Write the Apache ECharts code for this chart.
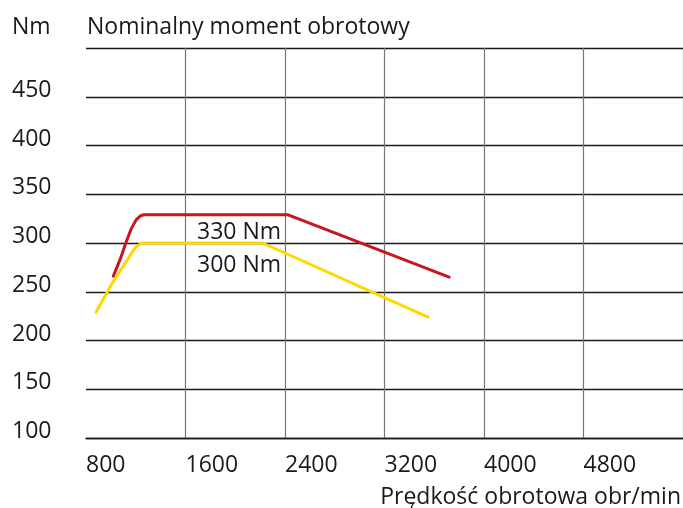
<!DOCTYPE html>
<html>
<head>
<meta charset="utf-8">
<script src="https://cdn.jsdelivr.net/npm/echarts@6/dist/echarts.min.js"></script>
<style>
  html, body { margin: 0; padding: 0; background: #fff; }
  #chart { width: 683px; height: 508px; }
</style>
</head>
<body>
<div id="chart"></div>
<script>
// Nominal torque curves, rpm vs Nm.
const red330 = [[1020, 266], [1080, 285], [1120, 300], [1165, 315], [1205, 324], [1240, 328], [1265, 329], [2420, 329], [3720, 265]];
const yellow300 = [[880, 229], [1007, 258], [1200, 296], [1250, 300], [2220, 300], [3550, 224]];
const xTicks = [800, 1600, 2400, 3200, 4000, 4800, 5600];
const yTicks = [100, 150, 200, 250, 300, 350, 400, 450, 500];
const curveLabels = ['330 Nm', '300 Nm'];

const FONT = '"Open Sans", sans-serif';
const INK = '#1a1a1a';
const chart = echarts.init(document.getElementById('chart'));

chart.setOption({
  animation: false,
  backgroundColor: '#fff',
  grid: { left: 86, right: 0, top: 48, bottom: 70 },
  xAxis: {
    type: 'value',
    min: xTicks[0], max: xTicks[xTicks.length - 1], interval: 800,
    axisLine: { show: true, lineStyle: { color: INK, width: 1.3 } },
    axisTick: { show: false },
    axisLabel: {
      showMaxLabel: false, align: 'left', margin: 16,
      color: INK, fontSize: 23, fontFamily: FONT,
      formatter: function (v) { return String(v); }
    },
    splitLine: {
      show: true,
      lineStyle: { color: ['rgba(0,0,0,0)', '#777', '#777', '#777', '#777', '#777', '#777'], width: 1.2 }
    }
  },
  yAxis: {
    type: 'value',
    min: yTicks[0], max: yTicks[yTicks.length - 1], interval: 50,
    axisLine: { show: false },
    axisTick: { show: false },
    axisLabel: {
      showMaxLabel: false, align: 'left', margin: 74, verticalAlign: 'bottom', lineHeight: 13,
      color: INK, fontSize: 23, fontFamily: FONT
    },
    splitLine: { show: true, lineStyle: { color: INK, width: 1.3 } }
  },
  graphic: [
    { type: 'text', left: 12, top: 16, style: { text: 'Nm', font: '23px ' + FONT, fill: INK } },
    { type: 'text', left: 87, top: 16, style: { text: 'Nominalny moment obrotowy', font: '23px ' + FONT, fill: INK } },
    { type: 'text', right: 2, top: 486, style: { text: 'Prędkość obrotowa obr/min', font: '23px ' + FONT, fill: INK } },
    { type: 'text', left: 197, top: 221, style: { text: curveLabels[0], font: '23px ' + FONT, fill: INK } },
    { type: 'text', left: 197, top: 254, style: { text: curveLabels[1], font: '23px ' + FONT, fill: INK } }
  ],
  series: [
    {
      type: 'line', data: red330, symbol: 'none',
      lineStyle: { color: '#c8161e', width: 3, cap: 'round', join: 'round' }
    },
    {
      type: 'line', data: yellow300, symbol: 'none',
      lineStyle: { color: '#ffd800', width: 3, cap: 'round', join: 'round' }
    }
  ]
});
</script>
</body>
</html>
